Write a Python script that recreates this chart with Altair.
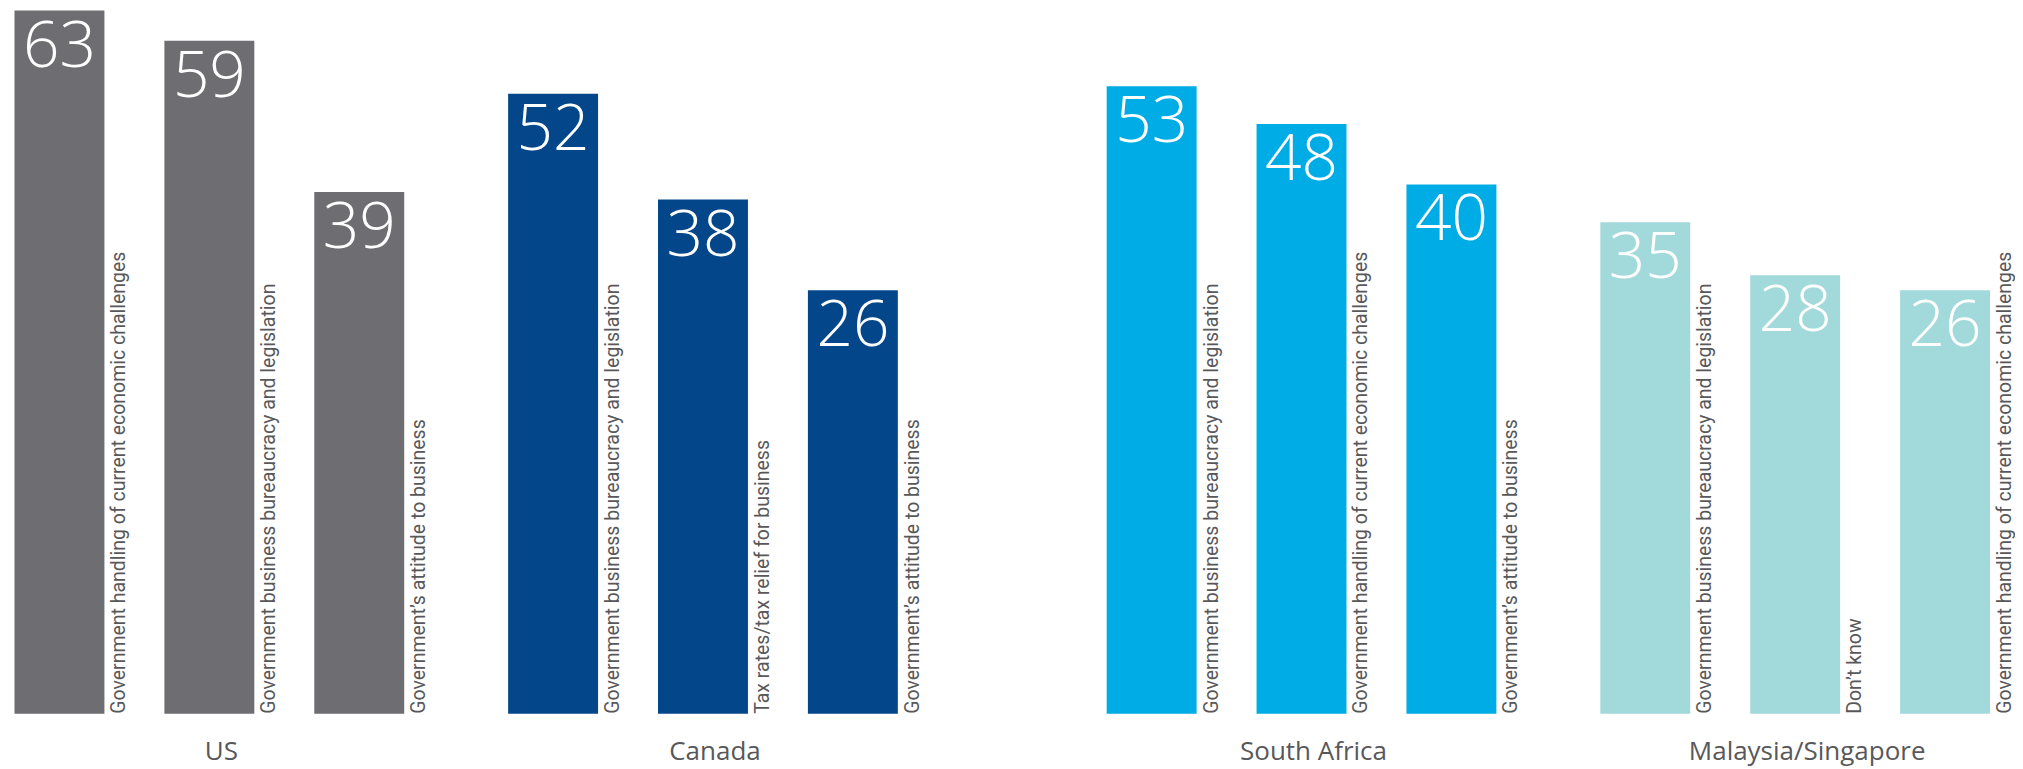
import altair as alt
import pandas as pd

countries = ["US", "Canada", "South Africa", "Malaysia/Singapore"]
us_labels = ["Government handling of current economic challenges",
             "Government business bureaucracy and legislation",
             "Government\u2019s attitude to business"]
us_values = [63, 59, 39]
ca_labels = ["Government business bureaucracy and legislation",
             "Tax rates/tax relief for business",
             "Government\u2019s attitude to business"]
ca_values = [52, 38, 26]
za_labels = ["Government business bureaucracy and legislation",
             "Government handling of current economic challenges",
             "Government\u2019s attitude to business"]
za_values = [53, 48, 40]
my_labels = ["Government business bureaucracy and legislation",
             "Don\u2019t know",
             "Government handling of current economic challenges"]
my_values = [35, 28, 26]
colors = ["#6E6D72", "#03468A", "#00ACE6", "#A2D9DB"]
ranks = [1, 2, 3]
base_value = -30

LABEL_FONT = "Roboto"
VALUE_FONT = "Open Sans"
H = 706


def panel(country, labels, values, color, width, pad_outer):
    df = pd.DataFrame({"rank": ranks, "label": labels, "value": values,
                       "country": [country] * 3, "base": [base_value] * 3})
    x = alt.X("rank:O", axis=None,
              scale=alt.Scale(paddingInner=0.4, paddingOuter=pad_outer, align=0))
    y = alt.Y("value:Q", axis=None,
              scale=alt.Scale(domain=[base_value, 63.3], nice=False, zero=False))
    base = alt.Chart(df).encode(x=x)
    bars = base.mark_bar(color=color).encode(y=y, y2="base:Q")
    vals = base.mark_text(align="left", baseline="alphabetic", dx=-36.5, dy=56,
                          font=VALUE_FONT, fontSize=64, fontWeight=300,
                          color="white").encode(y=y, text="value:Q")
    labs = base.mark_text(angle=270, align="left", baseline="middle", dy=60,
                          font=LABEL_FONT, fontSize=19.5,
                          color="#58585A").encode(y=alt.Y("base:Q"), text="label:N")
    cat = alt.Chart(df[df["rank"] == 2]).mark_text(
        align="center", baseline="middle", dx=12, dy=38,
        font=VALUE_FONT, fontSize=26, color="#58585A").encode(
        x=x, y=alt.Y("base:Q"), text="country:N")
    return alt.layer(bars, vals, labs, cat).properties(width=width, height=H)


p1 = panel(countries[0], us_labels, us_values, colors[0], 390, 0)
p2 = panel(countries[1], ca_labels, ca_values, colors[1], 495, 0.35)
p3 = panel(countries[2], za_labels, za_values, colors[2], 390, 0)
p4 = panel(countries[3], my_labels, my_values, colors[3], 390, 0)

chart = alt.hconcat(p1, p2, p3, p4, spacing=104, bounds="flush").properties(
    padding={"left": 6.5, "top": 0, "right": 0, "bottom": 12}
).configure_view(stroke=None)

chart.save("out.html", embed_options={"renderer": "svg", "actions": False})
